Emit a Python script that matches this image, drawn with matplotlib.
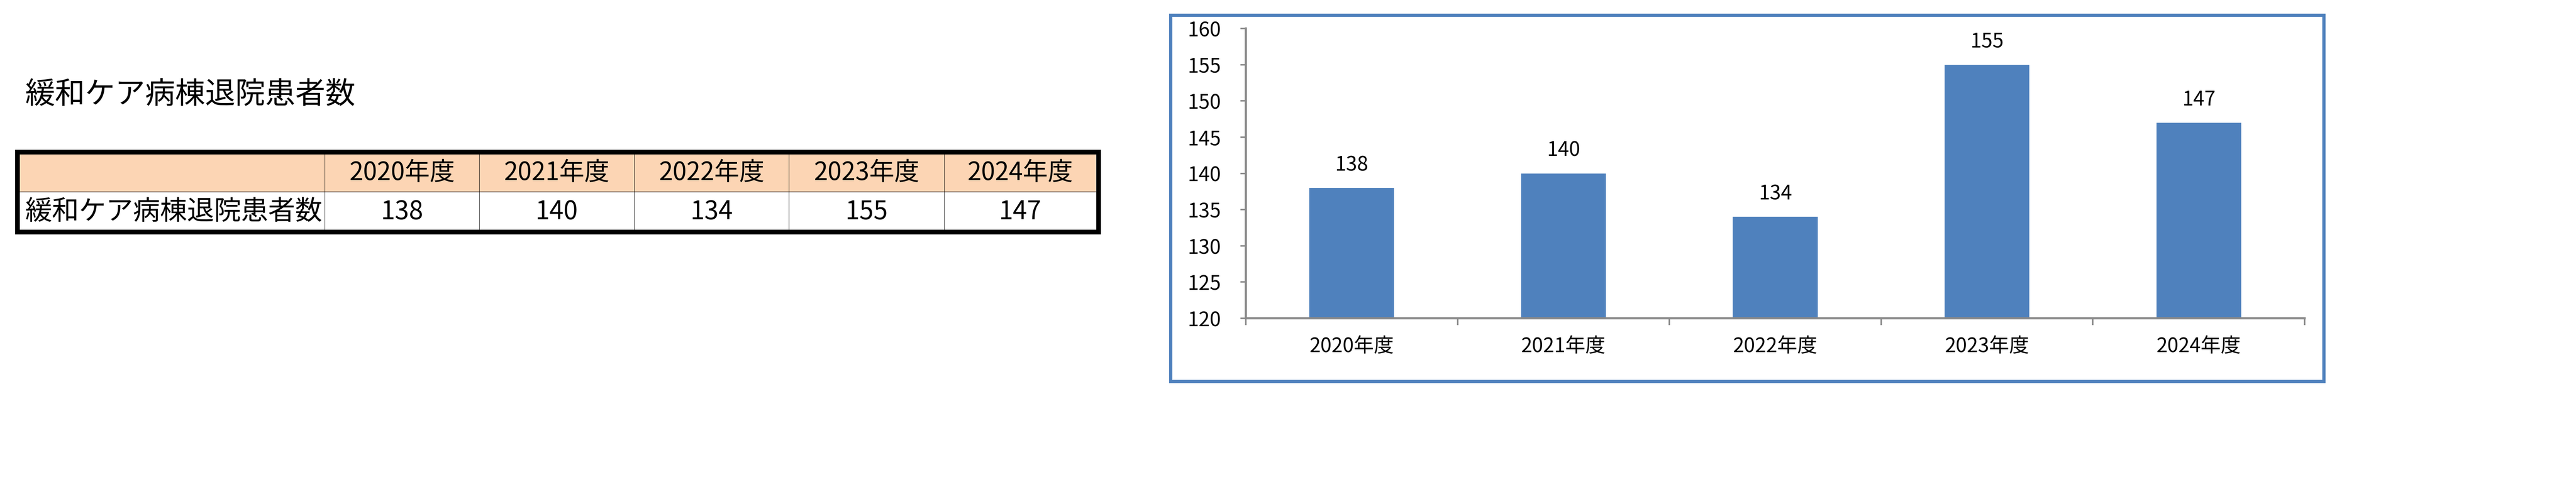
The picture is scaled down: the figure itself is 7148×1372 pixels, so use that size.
import matplotlib
matplotlib.use("Agg")
import matplotlib.pyplot as plt
from matplotlib.patches import Rectangle

plt.rcParams["font.family"] = ["Noto Sans CJK JP", "DejaVu Sans"]

# data
title = "緩和ケア病棟退院患者数"
row_label = "緩和ケア病棟退院患者数"
years = ["2020年度", "2021年度", "2022年度", "2023年度", "2024年度"]
patients = [138, 140, 134, 155, 147]
y_ticks = [120, 125, 130, 135, 140, 145, 150, 155, 160]

W, H, DPI = 7148, 1372, 100
bar_color = "#4F81BD"
axis_gray = "#898989"

fig = plt.figure(figsize=(W / DPI, H / DPI), dpi=DPI)
fig.patch.set_facecolor("white")

# overlay in pixel coordinates for the sheet part (title, table, chart frame)
sheet = fig.add_axes([0, 0, 1, 1])
sheet.set_xlim(0, W)
sheet.set_ylim(H, 0)
sheet.axis("off")

sheet.text(70, 262, title, fontsize=60, va="center", ha="left")

# table
col_edges = [55, 901, 1330, 1760, 2189, 2620, 3041]
head_top, head_bot, row_bot = 428, 533, 638
sheet.add_patch(Rectangle((col_edges[0], head_top), col_edges[-1] - col_edges[0],
                          head_bot - head_top, facecolor="#FCD5B4", edgecolor="none"))
sheet.plot([col_edges[0], col_edges[-1]], [head_bot, head_bot], color="black", lw=1.2)
for xe in col_edges[1:-1]:
    sheet.plot([xe, xe], [head_top, row_bot], color="black", lw=0.8)
sheet.add_patch(Rectangle((47.5, 421.5), 3000, 222, facecolor="none",
                          edgecolor="black", lw=9.4))

head_mid = (head_top + head_bot) / 2
row_mid = (head_bot + row_bot) / 2 + 3
for i, (yr, val) in enumerate(zip(years, patients)):
    cx = (col_edges[i + 1] + col_edges[i + 2]) / 2
    sheet.text(cx, head_mid, yr, fontsize=50, ha="center", va="center")
    sheet.text(cx, row_mid, str(val), fontsize=51, ha="center", va="center")
sheet.text(69, row_mid, row_label, fontsize=54, ha="left", va="center")

# chart frame
sheet.add_patch(Rectangle((3247.5, 41.5), 3200, 1017, facecolor="none",
                          edgecolor=bar_color, lw=6.5))

# bar chart
ax = fig.add_axes([3457 / W, 1 - 884 / H, (6395 - 3457) / W, (884 - 79) / H])
ax.patch.set_alpha(0)
x = list(range(len(years)))
bars = ax.bar(x, patients, width=0.4, color=bar_color, bottom=0)
ax.set_ylim(120, 160)
ax.set_xlim(-0.5, len(years) - 0.5)
ax.set_yticks(y_ticks)
ax.set_yticklabels([str(t) for t in y_ticks], fontsize=40)
ax.set_xticks([i - 0.5 for i in range(len(years) + 1)])
ax.set_xticklabels([])
ax.set_xticks(x, minor=True)
ax.set_xticklabels(years, minor=True, fontsize=40)

for s in ["top", "right"]:
    ax.spines[s].set_visible(False)
for s in ["left", "bottom"]:
    ax.spines[s].set_color(axis_gray)
    ax.spines[s].set_linewidth(4.3)
ax.tick_params(axis="y", which="major", length=11, width=3, color=axis_gray, pad=39)
ax.tick_params(axis="x", which="major", length=14, width=3, color=axis_gray)
ax.tick_params(axis="x", which="minor", length=0, pad=36)

for xi, v in zip(x, patients):
    ax.annotate(str(v), (xi, v), xytext=(0, 25), textcoords="offset points",
                ha="center", va="bottom", fontsize=40)

fig.savefig("out.png", dpi=DPI, facecolor="white")
